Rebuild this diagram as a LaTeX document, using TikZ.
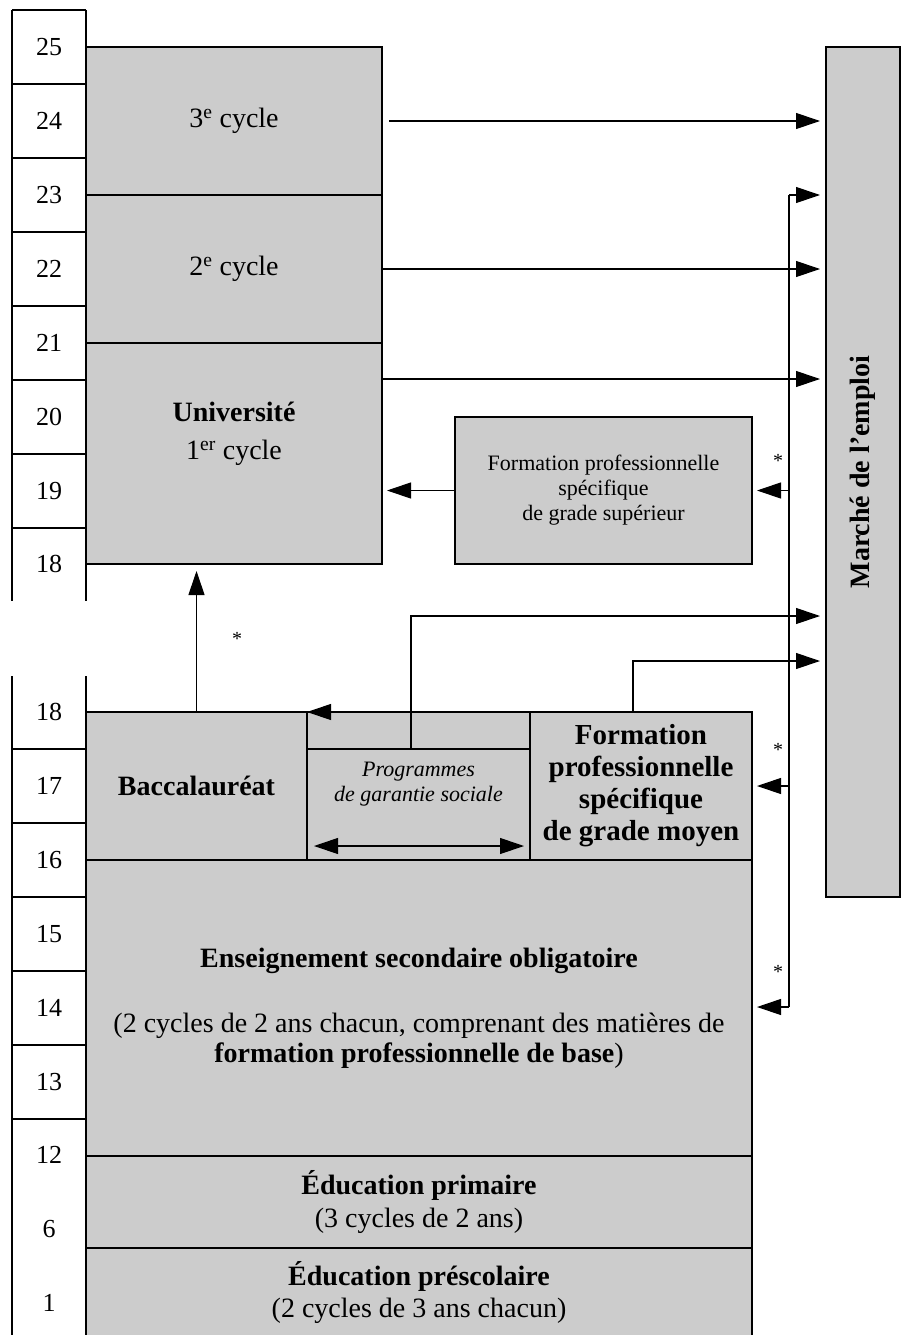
\documentclass[tikz,border=0pt]{standalone}
\usepackage{fontspec}
\setmainfont{Liberation Serif}
\usetikzlibrary{arrows.meta}
\begin{document}
\begin{tikzpicture}[x=1pt,y=-1pt,
  box/.style={draw=drawColor,fill=fillColor,line width=1.1pt,inner sep=0pt,outer sep=0pt},
  lbl/.style={text=drawColor,inner sep=0pt,outer sep=0pt,align=center,font=\fontsize{28}{30}\selectfont},
  agelbl/.style={text=drawColor,inner sep=0pt,outer sep=0pt,font=\fontsize{26}{30}\selectfont},
  smalllbl/.style={text=drawColor,inner sep=0pt,outer sep=0pt,align=center,font=\fontsize{22}{25}\selectfont},
  starlbl/.style={text=drawColor,inner sep=0pt,font=\fontsize{20}{20}\selectfont},
  rule/.style={draw=drawColor,line width=1.1pt},
  arr/.style={draw=drawColor,line width=1.1pt,-{Triangle[length=24pt,width=16pt]}},
  dblarr/.style={draw=drawColor,line width=1.1pt,{Triangle[length=24pt,width=16pt]}-{Triangle[length=24pt,width=16pt]}}]
\definecolor{fillColor}{RGB}{204,204,204}
\definecolor{drawColor}{RGB}{0,0,0}
\path[use as bounding box] (0,0) rectangle (901,1335);

\path[rule] (12,10) -- (12,601);
\path[rule] (86,10) -- (86,601);
\foreach \y in {10,84,158,232,306,380,454,528}
  \path[rule] (12,\y) -- (86,\y);
\foreach \a/\y in {25/47,24/121,23/195,22/269,21/343,20/417,19/491,18/564}
  \node[agelbl] (age\a) at (49,\y) {\a};

\path[rule] (12,676) -- (12,1336);
\path[rule] (86,676) -- (86,1336);
\foreach \y in {749,823,897,971,1045,1119}
  \path[rule] (12,\y) -- (86,\y);
\foreach \a/\y in {18/712,17/786,16/860,15/934,14/1008,13/1082,12/1155,6/1229,1/1303}
  \node[agelbl] (low\a) at (49,\y) {\a};

\node[box,lbl,minimum width=296pt,minimum height=148pt] (cycle3) at (234,121) {3\textsuperscript{e} cycle};
\node[box,lbl,minimum width=296pt,minimum height=148pt] (cycle2) at (234,269) {2\textsuperscript{e} cycle};
\node[box,minimum width=296pt,minimum height=221pt] (univ) at (234,453.5) {};
\node[lbl] (univtext) at (234,434) {\textbf{Université}\\[8pt]1\textsuperscript{er} cycle};
\node[box,smalllbl,minimum width=297pt,minimum height=147pt] (sup) at (603.5,490.5) {Formation professionnelle\\spécifique\\de grade supérieur};
\node[box,minimum width=74pt,minimum height=850pt] (marche) at (863,472) {};
\node[lbl,rotate=90] (marchetext) at (863,472) {\textbf{Marché de l'emploi}};

\node[box,lbl,minimum width=221pt,minimum height=148pt] (bac) at (196.5,786) {\textbf{Baccalauréat}};
\node[box,minimum width=223pt,minimum height=148pt] (prog) at (418.5,786) {};
\node[smalllbl] (progtext) at (418.5,784) {\itshape Programmes\\\itshape de garantie sociale};
\node[box,lbl,font=\fontsize{29}{32}\selectfont\bfseries,minimum width=222pt,minimum height=148pt] (moyen) at (641,786) {Formation\\professionnelle\\spécifique\\de grade moyen};
\node[box,lbl,minimum width=666pt,minimum height=296pt] (second) at (419,1008) {\textbf{Enseignement secondaire obligatoire}\\[35pt](2 cycles de 2 ans chacun, comprenant des matières de\\\textbf{formation professionnelle de base})};
\node[box,lbl,font=\fontsize{28}{33}\selectfont,minimum width=666pt,minimum height=92pt] (prim) at (419,1202) {\textbf{Éducation primaire}\\(3 cycles de 2 ans)};
\node[box,lbl,font=\fontsize{28}{32}\selectfont,minimum width=666pt,minimum height=89pt] (presco) at (419,1292.5) {\textbf{Éducation préscolaire}\\(2 cycles de 3 ans chacun)};

\coordinate (progmidL) at (307,749);
\coordinate (progmidR) at (530,749);
\path[rule] (progmidL) -- (progmidR);
\coordinate (dblL) at (314,846);
\coordinate (dblR) at (524,846);
\path[dblarr] (dblL) -- (dblR);
\path[arr] (prog.north east) -- (prog.north west);

\coordinate (univout) at (382,379);
\coordinate (bustop) at (789,195);
\coordinate (busbot) at (789,1007);
\coordinate (progout) at (411,749);
\coordinate (progturn) at (411,616);
\coordinate (moyenout) at (633,712);
\coordinate (moyenturn) at (633,661);

\path[arr,shorten <=7pt,shorten >=6pt] (cycle3.east) -- (cycle3.east -| marche.west);
\path[arr,shorten >=6pt] (cycle2.east) -- (cycle2.east -| marche.west);
\path[arr,shorten >=6pt] (univout) -- (univout -| marche.west);
\path[arr,shorten >=5pt] (sup.west) -- (sup.west -| univ.east);
\path[arr,shorten >=7pt] (bac.north) -- (bac.north |- univ.south);

\path[rule] (bustop) -- (busbot);
\path[arr,shorten >=6pt] (bustop) -- (bustop -| marche.west);
\path[arr,shorten >=5pt] (sup.east -| bustop) -- (sup.east);
\path[arr,shorten >=5pt] (moyen.east -| bustop) -- (moyen.east);
\path[arr,shorten >=5pt] (busbot) -- (busbot -| second.east);

\path[arr,shorten >=6pt] (progout) -- (progturn) -- (progturn -| marche.west);
\path[arr,shorten >=6pt] (moyenout) -- (moyenturn) -- (moyenturn -| marche.west);

\node[starlbl] (star1) at (237,639) {*};
\node[starlbl] (star2) at (778,461) {*};
\node[starlbl] (star3) at (778,750) {*};
\node[starlbl] (star4) at (778,972) {*};
\end{tikzpicture}
\end{document}
